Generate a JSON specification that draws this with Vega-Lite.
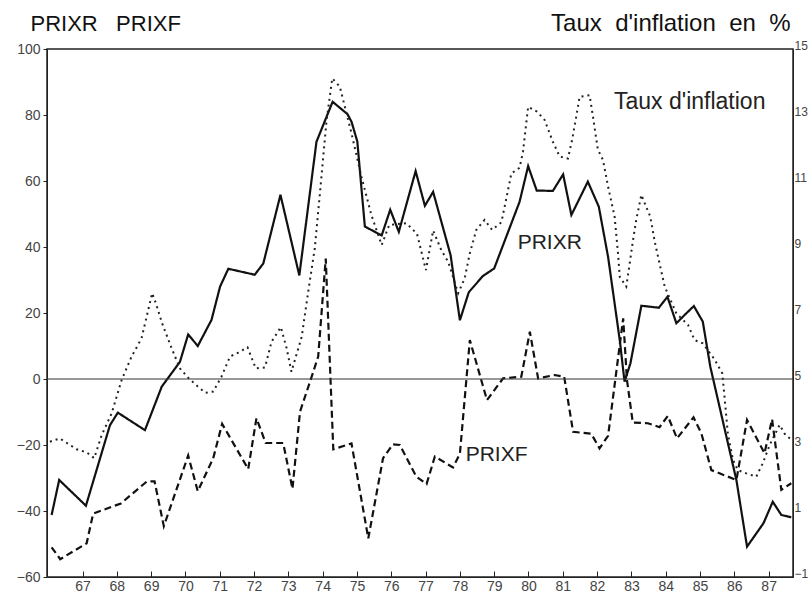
{
  "$schema": "https://vega.github.io/schema/vega-lite/v6.json",
  "width": 746,
  "height": 528,
  "autosize": {"type": "none"},
  "padding": {"left": 47, "top": 49, "right": 15, "bottom": 15},
  "background": "white",
  "config": {
    "view": {"stroke": "#222", "strokeWidth": 1.5},
    "font": "Liberation Sans",
    "axis": {"grid": false, "labelFont": "Liberation Sans", "titleFont": "Liberation Sans", "labelColor": "#444", "labelFontSize": 14, "domainColor": "#222", "tickColor": "#222"},
    "axisX": {"labelOverlap": false, "labelFlush": false},
    "axisY": {"labelOverlap": false, "labelFlush": false}
  },
  "datasets": {
    "prix": [
      {"serie": "PRIXR", "annee": 66.10, "valeur": -41.2},
      {"serie": "PRIXR", "annee": 66.32, "valeur": -30.6},
      {"serie": "PRIXR", "annee": 67.10, "valeur": -38.4},
      {"serie": "PRIXR", "annee": 67.80, "valeur": -14},
      {"serie": "PRIXR", "annee": 68.03, "valeur": -10.2},
      {"serie": "PRIXR", "annee": 68.82, "valeur": -15.5},
      {"serie": "PRIXR", "annee": 69.31, "valeur": -2.3},
      {"serie": "PRIXR", "annee": 69.84, "valeur": 5.2},
      {"serie": "PRIXR", "annee": 70.08, "valeur": 13.5},
      {"serie": "PRIXR", "annee": 70.36, "valeur": 10},
      {"serie": "PRIXR", "annee": 70.76, "valeur": 17.9},
      {"serie": "PRIXR", "annee": 71.01, "valeur": 28},
      {"serie": "PRIXR", "annee": 71.25, "valeur": 33.4},
      {"serie": "PRIXR", "annee": 72.02, "valeur": 31.6},
      {"serie": "PRIXR", "annee": 72.27, "valeur": 35},
      {"serie": "PRIXR", "annee": 72.77, "valeur": 55.8},
      {"serie": "PRIXR", "annee": 73.32, "valeur": 31.4},
      {"serie": "PRIXR", "annee": 73.82, "valeur": 71.9},
      {"serie": "PRIXR", "annee": 74.29, "valeur": 84},
      {"serie": "PRIXR", "annee": 74.72, "valeur": 80.3},
      {"serie": "PRIXR", "annee": 74.84, "valeur": 78},
      {"serie": "PRIXR", "annee": 75.01, "valeur": 72},
      {"serie": "PRIXR", "annee": 75.23, "valeur": 46.2},
      {"serie": "PRIXR", "annee": 75.72, "valeur": 43.5},
      {"serie": "PRIXR", "annee": 75.97, "valeur": 51.3},
      {"serie": "PRIXR", "annee": 76.22, "valeur": 44.6},
      {"serie": "PRIXR", "annee": 76.71, "valeur": 63},
      {"serie": "PRIXR", "annee": 76.98, "valeur": 52.5},
      {"serie": "PRIXR", "annee": 77.22, "valeur": 56.7},
      {"serie": "PRIXR", "annee": 77.73, "valeur": 37.5},
      {"serie": "PRIXR", "annee": 78.00, "valeur": 17.8},
      {"serie": "PRIXR", "annee": 78.26, "valeur": 26.3},
      {"serie": "PRIXR", "annee": 78.67, "valeur": 31.2},
      {"serie": "PRIXR", "annee": 79.00, "valeur": 33.5},
      {"serie": "PRIXR", "annee": 79.74, "valeur": 53.7},
      {"serie": "PRIXR", "annee": 79.99, "valeur": 64.5},
      {"serie": "PRIXR", "annee": 80.24, "valeur": 57.1},
      {"serie": "PRIXR", "annee": 80.71, "valeur": 57},
      {"serie": "PRIXR", "annee": 81.01, "valeur": 62},
      {"serie": "PRIXR", "annee": 81.25, "valeur": 49.7},
      {"serie": "PRIXR", "annee": 81.73, "valeur": 59.8},
      {"serie": "PRIXR", "annee": 82.05, "valeur": 52.2},
      {"serie": "PRIXR", "annee": 82.32, "valeur": 37},
      {"serie": "PRIXR", "annee": 82.66, "valeur": 11.8},
      {"serie": "PRIXR", "annee": 82.80, "valeur": -0.8},
      {"serie": "PRIXR", "annee": 82.97, "valeur": 4.7},
      {"serie": "PRIXR", "annee": 83.29, "valeur": 22.2},
      {"serie": "PRIXR", "annee": 83.80, "valeur": 21.6},
      {"serie": "PRIXR", "annee": 84.05, "valeur": 24.9},
      {"serie": "PRIXR", "annee": 84.31, "valeur": 16.9},
      {"serie": "PRIXR", "annee": 84.60, "valeur": 19.9},
      {"serie": "PRIXR", "annee": 84.82, "valeur": 22.1},
      {"serie": "PRIXR", "annee": 85.08, "valeur": 17.4},
      {"serie": "PRIXR", "annee": 85.30, "valeur": 3.7},
      {"serie": "PRIXR", "annee": 86.06, "valeur": -30.6},
      {"serie": "PRIXR", "annee": 86.37, "valeur": -50.8},
      {"serie": "PRIXR", "annee": 86.85, "valeur": -43.7},
      {"serie": "PRIXR", "annee": 87.12, "valeur": -37.2},
      {"serie": "PRIXR", "annee": 87.37, "valeur": -41.2},
      {"serie": "PRIXR", "annee": 87.66, "valeur": -41.9},
      {"serie": "PRIXF", "annee": 66.10, "valeur": -51},
      {"serie": "PRIXF", "annee": 66.35, "valeur": -54.6},
      {"serie": "PRIXF", "annee": 67.12, "valeur": -49.8},
      {"serie": "PRIXF", "annee": 67.31, "valeur": -40.8},
      {"serie": "PRIXF", "annee": 68.12, "valeur": -37.7},
      {"serie": "PRIXF", "annee": 68.87, "valeur": -31.1},
      {"serie": "PRIXF", "annee": 69.10, "valeur": -31},
      {"serie": "PRIXF", "annee": 69.37, "valeur": -44.6},
      {"serie": "PRIXF", "annee": 70.08, "valeur": -23.2},
      {"serie": "PRIXF", "annee": 70.36, "valeur": -34},
      {"serie": "PRIXF", "annee": 70.81, "valeur": -24},
      {"serie": "PRIXF", "annee": 71.07, "valeur": -13.6},
      {"serie": "PRIXF", "annee": 71.83, "valeur": -27.3},
      {"serie": "PRIXF", "annee": 72.07, "valeur": -11.9},
      {"serie": "PRIXF", "annee": 72.34, "valeur": -19.4},
      {"serie": "PRIXF", "annee": 72.85, "valeur": -19.4},
      {"serie": "PRIXF", "annee": 73.12, "valeur": -33.3},
      {"serie": "PRIXF", "annee": 73.34, "valeur": -9.9},
      {"serie": "PRIXF", "annee": 73.68, "valeur": 0.7},
      {"serie": "PRIXF", "annee": 73.87, "valeur": 6.8},
      {"serie": "PRIXF", "annee": 74.09, "valeur": 36.5},
      {"serie": "PRIXF", "annee": 74.31, "valeur": -21.3},
      {"serie": "PRIXF", "annee": 74.84, "valeur": -19.5},
      {"serie": "PRIXF", "annee": 75.33, "valeur": -48.3},
      {"serie": "PRIXF", "annee": 75.76, "valeur": -24},
      {"serie": "PRIXF", "annee": 76.05, "valeur": -19.8},
      {"serie": "PRIXF", "annee": 76.25, "valeur": -20},
      {"serie": "PRIXF", "annee": 76.73, "valeur": -29.6},
      {"serie": "PRIXF", "annee": 77.03, "valeur": -31.8},
      {"serie": "PRIXF", "annee": 77.27, "valeur": -23.5},
      {"serie": "PRIXF", "annee": 77.80, "valeur": -26.8},
      {"serie": "PRIXF", "annee": 78.00, "valeur": -22.7},
      {"serie": "PRIXF", "annee": 78.29, "valeur": 11.8},
      {"serie": "PRIXF", "annee": 78.79, "valeur": -6.4},
      {"serie": "PRIXF", "annee": 79.26, "valeur": 0.2},
      {"serie": "PRIXF", "annee": 79.79, "valeur": 0.7},
      {"serie": "PRIXF", "annee": 80.04, "valeur": 14.3},
      {"serie": "PRIXF", "annee": 80.28, "valeur": 0.2},
      {"serie": "PRIXF", "annee": 80.76, "valeur": 1.2},
      {"serie": "PRIXF", "annee": 81.04, "valeur": 0.7},
      {"serie": "PRIXF", "annee": 81.30, "valeur": -16},
      {"serie": "PRIXF", "annee": 81.83, "valeur": -16.6},
      {"serie": "PRIXF", "annee": 82.07, "valeur": -21},
      {"serie": "PRIXF", "annee": 82.32, "valeur": -17.2},
      {"serie": "PRIXF", "annee": 82.76, "valeur": 18.4},
      {"serie": "PRIXF", "annee": 82.87, "valeur": -0.3},
      {"serie": "PRIXF", "annee": 83.04, "valeur": -13.2},
      {"serie": "PRIXF", "annee": 83.48, "valeur": -13.4},
      {"serie": "PRIXF", "annee": 83.82, "valeur": -14.6},
      {"serie": "PRIXF", "annee": 84.06, "valeur": -11.2},
      {"serie": "PRIXF", "annee": 84.33, "valeur": -18},
      {"serie": "PRIXF", "annee": 84.81, "valeur": -11.6},
      {"serie": "PRIXF", "annee": 85.04, "valeur": -16.5},
      {"serie": "PRIXF", "annee": 85.33, "valeur": -27.6},
      {"serie": "PRIXF", "annee": 86.06, "valeur": -30.6},
      {"serie": "PRIXF", "annee": 86.37, "valeur": -12.4},
      {"serie": "PRIXF", "annee": 86.88, "valeur": -22.5},
      {"serie": "PRIXF", "annee": 87.10, "valeur": -12.2},
      {"serie": "PRIXF", "annee": 87.37, "valeur": -33.6},
      {"serie": "PRIXF", "annee": 87.66, "valeur": -31.6}
    ],
    "inflation": [
      {"annee": 66.05, "taux": 3.1}, {"annee": 66.34, "taux": 3.2}, {"annee": 66.83, "taux": 2.87},
      {"annee": 67.12, "taux": 2.78}, {"annee": 67.34, "taux": 2.6}, {"annee": 67.56, "taux": 3.3},
      {"annee": 67.85, "taux": 3.96}, {"annee": 68.14, "taux": 4.97}, {"annee": 68.43, "taux": 5.68},
      {"annee": 68.72, "taux": 6.23}, {"annee": 68.87, "taux": 6.89}, {"annee": 69.03, "taux": 7.6},
      {"annee": 69.14, "taux": 7.29}, {"annee": 69.32, "taux": 6.69}, {"annee": 69.58, "taux": 5.98},
      {"annee": 69.84, "taux": 5.32}, {"annee": 70.10, "taux": 5.02}, {"annee": 70.36, "taux": 4.77},
      {"annee": 70.59, "taux": 4.58}, {"annee": 70.81, "taux": 4.62}, {"annee": 71.05, "taux": 5.07},
      {"annee": 71.30, "taux": 5.68}, {"annee": 71.54, "taux": 5.8}, {"annee": 71.81, "taux": 5.96},
      {"annee": 72.05, "taux": 5.32}, {"annee": 72.32, "taux": 5.35}, {"annee": 72.51, "taux": 6.13},
      {"annee": 72.78, "taux": 6.57}, {"annee": 72.95, "taux": 5.93}, {"annee": 73.09, "taux": 5.22},
      {"annee": 73.39, "taux": 6.28}, {"annee": 73.58, "taux": 7.65}, {"annee": 73.77, "taux": 8.96},
      {"annee": 73.92, "taux": 10.62}, {"annee": 74.11, "taux": 12.8}, {"annee": 74.28, "taux": 14.11},
      {"annee": 74.50, "taux": 13.86}, {"annee": 74.84, "taux": 12.45}, {"annee": 75.13, "taux": 11.13},
      {"annee": 75.42, "taux": 9.97}, {"annee": 75.72, "taux": 9.06}, {"annee": 75.94, "taux": 9.67},
      {"annee": 76.44, "taux": 9.72}, {"annee": 76.75, "taux": 9.4}, {"annee": 77.01, "taux": 8.3},
      {"annee": 77.22, "taux": 9.5}, {"annee": 77.46, "taux": 8.9}, {"annee": 77.66, "taux": 8.55},
      {"annee": 77.95, "taux": 7.6}, {"annee": 78.14, "taux": 8.05}, {"annee": 78.29, "taux": 8.81},
      {"annee": 78.48, "taux": 9.52}, {"annee": 78.72, "taux": 9.82}, {"annee": 78.94, "taux": 9.52},
      {"annee": 79.21, "taux": 9.75}, {"annee": 79.36, "taux": 10.5}, {"annee": 79.50, "taux": 11.23},
      {"annee": 79.74, "taux": 11.4}, {"annee": 79.84, "taux": 11.89}, {"annee": 79.99, "taux": 13.25},
      {"annee": 80.25, "taux": 13.1}, {"annee": 80.47, "taux": 12.85}, {"annee": 80.71, "taux": 12.19},
      {"annee": 80.91, "taux": 11.74}, {"annee": 81.15, "taux": 11.68}, {"annee": 81.28, "taux": 12.29},
      {"annee": 81.40, "taux": 13.0}, {"annee": 81.49, "taux": 13.55}, {"annee": 81.78, "taux": 13.6},
      {"annee": 81.88, "taux": 12.95}, {"annee": 82.02, "taux": 11.96}, {"annee": 82.17, "taux": 11.64},
      {"annee": 82.32, "taux": 10.83}, {"annee": 82.51, "taux": 9.92}, {"annee": 82.61, "taux": 8.8},
      {"annee": 82.66, "taux": 8.1}, {"annee": 82.85, "taux": 7.8}, {"annee": 82.95, "taux": 8.5},
      {"annee": 83.04, "taux": 9.16}, {"annee": 83.14, "taux": 9.82}, {"annee": 83.29, "taux": 10.58},
      {"annee": 83.41, "taux": 10.27}, {"annee": 83.55, "taux": 9.92}, {"annee": 83.68, "taux": 9.16},
      {"annee": 83.82, "taux": 8.5}, {"annee": 83.97, "taux": 7.8}, {"annee": 84.31, "taux": 6.99},
      {"annee": 84.65, "taux": 6.64}, {"annee": 84.84, "taux": 6.18}, {"annee": 85.08, "taux": 6.08},
      {"annee": 85.42, "taux": 5.6}, {"annee": 85.65, "taux": 5.17}, {"annee": 85.74, "taux": 4.16},
      {"annee": 85.81, "taux": 3.35}, {"annee": 85.96, "taux": 2.55}, {"annee": 86.10, "taux": 2.24},
      {"annee": 86.35, "taux": 2.14}, {"annee": 86.64, "taux": 2.04}, {"annee": 86.83, "taux": 2.45},
      {"annee": 87.03, "taux": 3.0}, {"annee": 87.32, "taux": 3.61}, {"annee": 87.49, "taux": 3.3},
      {"annee": 87.62, "taux": 3.2}
    ],
    "zero": [{"valeur": 0}],
    "etiquettes": [
      {"label": "PRIXR", "annee": 80.62, "valeur": 41.2},
      {"label": "PRIXF", "annee": 79.07, "valeur": -23}
    ],
    "etiquette_taux": [
      {"label": "Taux d'inflation", "annee": 84.70, "taux": 13.39}
    ]
  },
  "layer": [
    {
      "data": {"name": "prix"},
      "mark": {"type": "line", "stroke": "#111", "strokeWidth": 2.2},
      "encoding": {
        "x": {
          "field": "annee", "type": "quantitative",
          "scale": {"domain": [65.965, 87.71], "nice": false, "zero": false},
          "axis": {
            "values": [67, 68, 69, 70, 71, 72, 73, 74, 75, 76, 77, 78, 79, 80, 81, 82, 83, 84, 85, 86, 87],
            "format": "d", "title": null, "tickSize": -6, "labelPadding": 8, "labelDx": 4,
            "labelOverlap": false, "labelFlush": false
          }
        },
        "y": {
          "field": "valeur", "type": "quantitative",
          "scale": {"domain": [-60, 100], "nice": false, "zero": false},
          "axis": {
            "values": [-60, -40, -20, 0, 20, 40, 60, 80, 100],
            "tickSize": 4, "labelPadding": 3,
            "title": "PRIXR\u00a0\u00a0\u00a0PRIXF", "titleAngle": 0, "titleAlign": "left",
            "titleBaseline": "alphabetic", "titleX": -17, "titleY": -19,
            "titleFontSize": 22, "titleFontWeight": "normal", "titleColor": "#111"
          }
        },
        "strokeDash": {
          "field": "serie", "type": "nominal",
          "scale": {"domain": ["PRIXR", "PRIXF"], "range": [[1, 0], [7, 4]]},
          "legend": null
        }
      }
    },
    {
      "data": {"name": "zero"},
      "mark": {"type": "rule", "stroke": "#333", "strokeWidth": 1},
      "encoding": {
        "y": {"field": "valeur", "type": "quantitative", "scale": {"domain": [-60, 100], "nice": false, "zero": false}, "axis": null}
      }
    },
    {
      "data": {"name": "etiquettes"},
      "mark": {"type": "text", "fontSize": 21, "font": "Liberation Sans", "fill": "#222"},
      "encoding": {
        "x": {
          "field": "annee", "type": "quantitative",
          "axis": {
            "values": [67, 68, 69, 70, 71, 72, 73, 74, 75, 76, 77, 78, 79, 80, 81, 82, 83, 84, 85, 86, 87],
            "format": "d", "title": null, "tickSize": -6, "labelPadding": 8, "labelDx": 4,
            "labelOverlap": false, "labelFlush": false
          }
        },
        "y": {"field": "valeur", "type": "quantitative", "scale": {"domain": [-60, 100], "nice": false, "zero": false}, "axis": null},
        "text": {"field": "label"}
      }
    },
    {
      "data": {"name": "inflation"},
      "mark": {"type": "line", "stroke": "#222", "strokeWidth": 2, "strokeDash": [2, 4]},
      "encoding": {
        "x": {
          "field": "annee", "type": "quantitative",
          "axis": {
            "values": [67, 68, 69, 70, 71, 72, 73, 74, 75, 76, 77, 78, 79, 80, 81, 82, 83, 84, 85, 86, 87],
            "format": "d", "title": null, "tickSize": -6, "labelPadding": 8, "labelDx": 4,
            "labelOverlap": false, "labelFlush": false
          }
        },
        "y": {
          "field": "taux", "type": "quantitative",
          "scale": {"domain": [-1, 15], "nice": false, "zero": false},
          "axis": {
            "orient": "right",
            "values": [-1, 1, 3, 5, 7, 9, 11, 13, 15],
            "tickSize": 0, "labelPadding": 1, "labelBaseline": "alphabetic",
            "labelFontSize": 12,
            "title": "Taux\u00a0\u00a0d'inflation\u00a0\u00a0en\u00a0\u00a0%", "titleAngle": 0, "titleAlign": "right",
            "titleBaseline": "alphabetic", "titleX": -3, "titleY": -19,
            "titleFontSize": 24, "titleFontWeight": "normal", "titleColor": "#111"
          }
        }
      }
    },
    {
      "data": {"name": "etiquette_taux"},
      "mark": {"type": "text", "fontSize": 23, "font": "Liberation Sans", "fill": "#222"},
      "encoding": {
        "x": {
          "field": "annee", "type": "quantitative",
          "axis": {
            "values": [67, 68, 69, 70, 71, 72, 73, 74, 75, 76, 77, 78, 79, 80, 81, 82, 83, 84, 85, 86, 87],
            "format": "d", "title": null, "tickSize": -6, "labelPadding": 8, "labelDx": 4,
            "labelOverlap": false, "labelFlush": false
          }
        },
        "y": {"field": "taux", "type": "quantitative", "scale": {"domain": [-1, 15], "nice": false, "zero": false}, "axis": null},
        "text": {"field": "label"}
      }
    }
  ],
  "resolve": {"scale": {"y": "independent"}, "axis": {"y": "independent"}}
}
